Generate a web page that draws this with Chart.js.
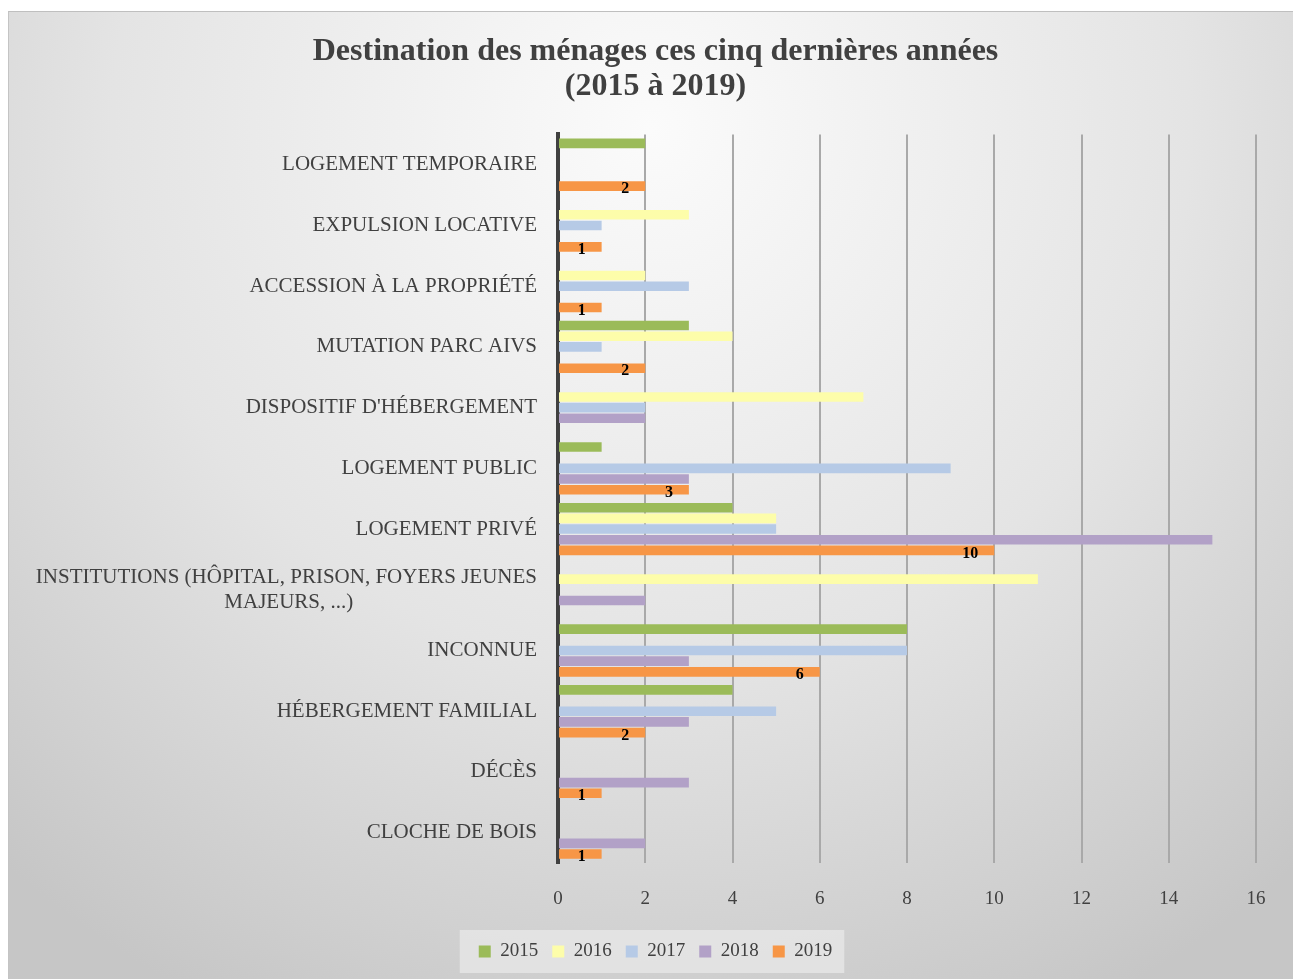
<!DOCTYPE html>
<html>
<head>
<meta charset="utf-8">
<script src="https://cdn.jsdelivr.net/npm/chart.js@4.4.1/dist/chart.umd.min.js"></script>
<style>
  body { margin: 0; background: #fff; }
  #frame { position: absolute; left: 8px; top: 11px; width: 1285px; height: 968px;
           border-top: 1px solid #bfbfbf; border-left: 1px solid #c4c4c4; box-sizing: border-box; }
  canvas { display: block; }
</style>
</head>
<body>
<div id="frame"><canvas id="chart" width="1285" height="968"></canvas></div>
<script>
const categories = [
    "LOGEMENT TEMPORAIRE",
    "EXPULSION LOCATIVE",
    "ACCESSION À LA PROPRIÉTÉ",
    "MUTATION PARC AIVS",
    "DISPOSITIF D'HÉBERGEMENT",
    "LOGEMENT PUBLIC",
    "LOGEMENT PRIVÉ",
    ["INSTITUTIONS (HÔPITAL, PRISON, FOYERS JEUNES", "MAJEURS, ...)"],
    "INCONNUE",
    "HÉBERGEMENT FAMILIAL",
    "DÉCÈS",
    "CLOCHE DE BOIS"
];
const years = ["2015", "2016", "2017", "2018", "2019"];
const values2015 = [2, 0, 0, 3, 0, 1, 4, 0, 8, 4, 0, 0];
const values2016 = [0, 3, 2, 4, 7, 0, 5, 11, 0, 0, 0, 0];
const values2017 = [0, 1, 3, 1, 2, 9, 5, 0, 8, 5, 0, 0];
const values2018 = [0, 0, 0, 0, 2, 3, 15, 2, 3, 3, 3, 2];
const values2019 = [2, 1, 1, 2, 0, 3, 10, 0, 6, 2, 1, 1];
const colors = ["#9bbb59", "#fdfdaa", "#b6cae6", "#b2a1c7", "#f79646"];
const xTicks = [0, 2, 4, 6, 8, 10, 12, 14, 16];

const serif = "'Liberation Serif', 'Times New Roman', serif";
const textColor = "#404040";
const labelFont = { family: serif, size: 21, lineHeight: 1.2 };

// centre the lines of a multi-line category label with no-break spaces
const measure = document.createElement("canvas").getContext("2d");
measure.font = "21px " + serif;
function centreLines(label) {
    if (!Array.isArray(label)) return label;
    const widest = Math.max(...label.map(l => measure.measureText(l).width));
    const nb = measure.measureText("\u00a0").width;
    return label.map(l => l + "\u00a0".repeat(Math.round((widest - measure.measureText(l).width) / 2 / nb)));
}

const backdrop = {
    id: "backdrop",
    afterLayout(chart) {
        // let the long category label run past the left padding without clipping
        const y = chart.scales.y;
        y.width += y.left;
        y.left = 0;
    },
    beforeDraw(chart) {
        const c = chart.ctx;
        const w = chart.width, h = chart.height;
        const g = c.createRadialGradient(w * 0.5, h * 0.12, 0, w * 0.5, h * 0.12, 980);
        g.addColorStop(0, "#fbfbfb");
        g.addColorStop(0.55, "#e4e4e4");
        g.addColorStop(1, "#c6c6c6");
        c.save();
        c.fillStyle = g;
        c.fillRect(0, 0, w, h);
        // legend panel
        const boxes = chart.legend.legendHitBoxes;
        if (boxes && boxes.length) {
            const left = Math.min(...boxes.map(b => b.left)) - 19;
            const right = Math.max(...boxes.map(b => b.left + b.width)) + 12;
            const top = Math.min(...boxes.map(b => b.top)) - 12;
            const bottom = Math.max(...boxes.map(b => b.top + b.height)) + 12;
            c.fillStyle = "rgba(232,232,232,0.75)";
            c.fillRect(left, top, right - left, bottom - top);
        }
        c.restore();
    }
};

const valueLabels = {
    id: "valueLabels",
    afterDatasetsDraw(chart) {
        const c = chart.ctx;
        const last = years.length - 1;
        const meta = chart.getDatasetMeta(last);
        c.save();
        c.font = "bold 16px " + serif;
        c.fillStyle = "#000";
        c.textAlign = "right";
        c.textBaseline = "middle";
        meta.data.forEach((bar, i) => {
            const v = chart.data.datasets[last].data[i];
            if (!v) return;
            c.fillText(String(v), bar.x - 16, bar.y + 3);
        });
        c.restore();
    }
};

const seriesValues = [values2015, values2016, values2017, values2018, values2019];

new Chart(document.getElementById("chart"), {
    type: "bar",
    data: {
        labels: categories.map(centreLines),
        datasets: years.map((y, i) => ({
            label: y,
            data: seriesValues[i],
            backgroundColor: colors[i],
            borderWidth: 0,
            categoryPercentage: 0.88,
            barPercentage: 0.9
        }))
    },
    options: {
        indexAxis: "y",
        responsive: false,
        devicePixelRatio: 1,
        animation: false,
        layout: { padding: { left: 46, right: 38, top: 0, bottom: 9 } },
        scales: {
            x: {
                min: 0,
                max: 16,
                afterBuildTicks: scale => { scale.ticks = xTicks.map(v => ({ value: v })); },
                afterFit: scale => { scale.height = 65; },
                ticks: { font: { family: serif, size: 19 }, color: textColor, padding: 25 },
                grid: { color: "#a9a9a9", lineWidth: 2, drawTicks: false },
                border: { display: false }
            },
            y: {
                afterFit: scale => { scale.width = 503; },
                ticks: { font: labelFont, color: textColor, padding: 21, autoSkip: false },
                grid: { display: false, drawTicks: false },
                border: { display: true, color: "#404040", width: 4 }
            }
        },
        plugins: {
            title: {
                display: true,
                text: ["Destination des ménages ces cinq dernières années", "(2015 à 2019)"],
                color: textColor,
                font: { family: serif, size: 32, weight: "bold", lineHeight: 1.1 },
                padding: { top: 22, bottom: 30 }
            },
            legend: {
                position: "bottom",
                labels: {
                    boxWidth: 12,
                    boxHeight: 12,
                    padding: 14,
                    color: textColor,
                    font: { family: serif, size: 19 }
                }
            },
            tooltip: { enabled: false }
        }
    },
    plugins: [backdrop, valueLabels]
});
</script>
</body>
</html>
